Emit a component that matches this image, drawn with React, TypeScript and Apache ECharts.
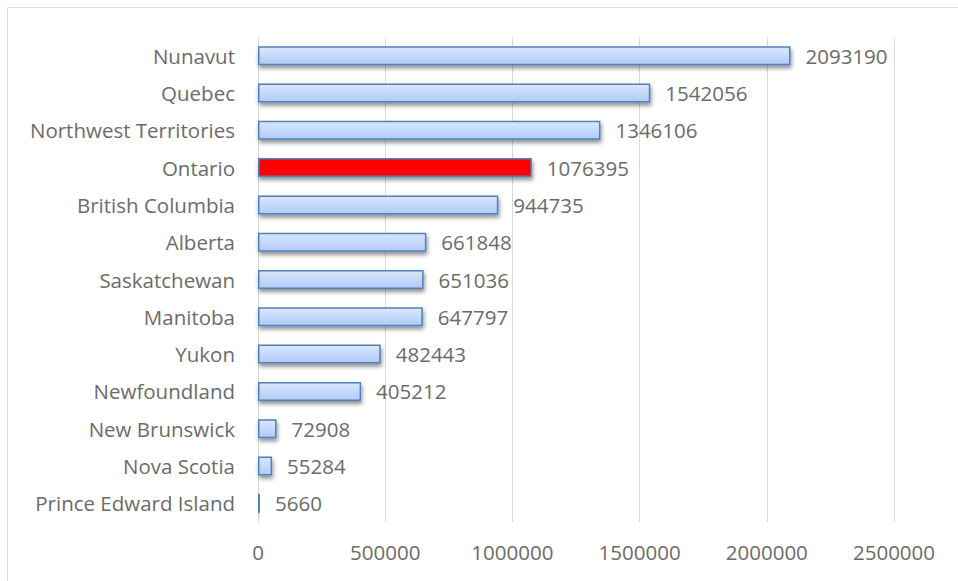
import React, { useEffect, useRef } from "react";
import * as echarts from "echarts";

const categories = [
  "Prince Edward Island",
  "Nova Scotia",
  "New Brunswick",
  "Newfoundland",
  "Yukon",
  "Manitoba",
  "Saskatchewan",
  "Alberta",
  "British Columbia",
  "Ontario",
  "Northwest Territories",
  "Quebec",
  "Nunavut",
];
const values = [5660, 55284, 72908, 405212, 482443, 647797, 651036, 661848, 944735, 1076395, 1346106, 1542056, 2093190];
const highlighted = "Ontario";
const xTicks = { min: 0, max: 2500000, interval: 500000 };

export default function App() {
  const ref = useRef<HTMLDivElement>(null);
  useEffect(() => {
    if (!ref.current) return;
    const chart = echarts.init(ref.current, null, { renderer: "svg" });
    const font = "'Open Sans', sans-serif";
    const textColor = "#6b6b6b";
    const fs = 20.5;
    const blueFill = new echarts.graphic.LinearGradient(0, 0, 0, 1, [
      { offset: 0, color: "#dae7fd" },
      { offset: 1, color: "#b0cbf6" },
    ]);
    chart.setOption({
      animation: false,
      backgroundColor: "#ffffff",
      graphic: [
        {
          type: "rect",
          shape: { x: 7.5, y: 7.5, width: 960, height: 600 },
          style: { fill: "none", stroke: "#d9d9d9", lineWidth: 1 },
          silent: true,
        },
      ],
      grid: { left: 258, right: 64, top: 37, bottom: 59, containLabel: false },
      xAxis: {
        type: "value",
        min: xTicks.min,
        max: xTicks.max,
        interval: xTicks.interval,
        axisLine: { show: false },
        axisTick: { show: false },
        splitLine: { show: true, lineStyle: { color: "#d9d9d9", width: 1 } },
        axisLabel: {
          color: textColor,
          fontSize: fs,
          fontFamily: font,
          margin: 19,
          formatter: (v: number) => String(v),
        },
      },
      yAxis: {
        type: "category",
        data: categories,
        axisLine: { show: true, lineStyle: { color: "#d9d9d9", width: 1 } },
        axisTick: { show: false },
        axisLabel: { color: textColor, fontSize: fs, fontFamily: font, margin: 23 },
      },
      series: [
        {
          type: "bar",
          barWidth: 19,
          barMinHeight: 2,
          z: 3,
          data: values.map((v, i) =>
            categories[i] === highlighted
              ? { value: v, itemStyle: { color: "#ff0000" } }
              : v
          ),
          itemStyle: {
            color: blueFill,
            borderColor: "#4f81bd",
            borderWidth: 1.5,
            shadowColor: "rgba(0,0,0,0.45)",
            shadowBlur: 4,
            shadowOffsetX: 1,
            shadowOffsetY: 3,
          },
          label: {
            show: true,
            position: "right",
            distance: 15,
            color: textColor,
            fontSize: fs,
            fontFamily: font,
          },
        },
      ],
    });
    return () => chart.dispose();
  }, []);
  return (
    <div
      ref={ref}
      style={{ position: "absolute", left: 0, top: 0, width: 958, height: 581 }}
    />
  );
}
